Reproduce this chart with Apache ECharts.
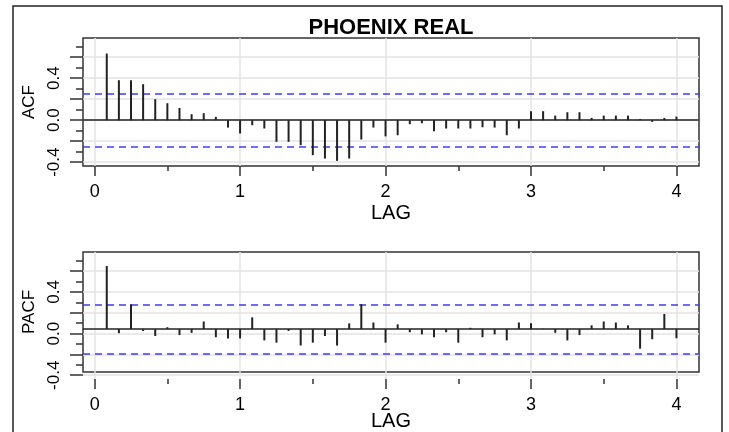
<!DOCTYPE html>
<html>
<head>
<meta charset="utf-8">
<script src="https://cdn.jsdelivr.net/npm/echarts@6/dist/echarts.min.js"></script>
<style>
  html, body { margin: 0; padding: 0; background: #fff; }
  #chart { width: 729px; height: 432px; }
</style>
</head>
<body>
<div id="chart"></div>
<script>
// lag in months, plotted as lag / frequency (years)
const lagMonths = [1, 2, 3, 4, 5, 6, 7, 8, 9, 10, 11, 12,
  13, 14, 15, 16, 17, 18, 19, 20, 21, 22, 23, 24,
  25, 26, 27, 28, 29, 30, 31, 32, 33, 34, 35, 36,
  37, 38, 39, 40, 41, 42, 43, 44, 45, 46, 47, 48];
const frequency = 12;

const acfValues = [0.635, 0.381, 0.381, 0.343, 0.200, 0.162, 0.117, 0.057, 0.067, 0.032, -0.070, -0.126,
  -0.048, -0.079, -0.206, -0.206, -0.238, -0.333, -0.365, -0.387, -0.365, -0.184, -0.070, -0.154,
  -0.143, -0.038, -0.029, -0.105, -0.079, -0.079, -0.079, -0.067, -0.070, -0.143, -0.079, 0.086,
  0.086, 0.044, 0.076, 0.076, 0.022, 0.044, 0.044, 0.044, 0.010, -0.016, 0.022, 0.035];

const pacfValues = [0.641, -0.042, 0.253, -0.019, -0.070, 0.019, -0.061, -0.038, 0.077, -0.083, -0.096, -0.095,
  0.119, -0.115, -0.138, -0.019, -0.167, -0.138, -0.070, -0.167, 0.058, 0.253, 0.067, -0.138,
  0.048, -0.032, -0.054, -0.083, -0.032, -0.138, 0.013, -0.083, -0.054, -0.115, 0.067, 0.058,
  0.003, -0.038, -0.115, -0.061, 0.038, 0.077, 0.067, 0.038, -0.199, -0.103, 0.154, -0.093];

const ciBound = 0.253;
const xTickLabels = ['0', '1', '2', '3', '4'];
const yTickLabels = ['-0.4', '0.0', '0.4'];

const font = 'Liberation Sans, Arial, sans-serif';
const xMin = -0.08, xMax = 4.155;
const yMin = -0.436, yMax = 0.783;
const plotLeft = 83, plotWidth = 616;
const panels = [
  { top: 38, height: 128, name: 'ACF', values: acfValues, lagGap: 37 },
  { top: 252, height: 127, name: 'PACF', values: pacfValues, lagGap: 39 }
];

function xPx(v) { return plotLeft + (v - xMin) / (xMax - xMin) * plotWidth; }
function yPx(p, v) { return p.top + (yMax - v) / (yMax - yMin) * p.height; }

const tickStyle = { color: '#333', width: 1.5 };
const gridLine = { color: '#e3e3e3', width: 1.5 };
const hidden = { show: false };

const grid = [], xAxis = [], yAxis = [], series = [];

panels.forEach(function (p) {
  const g = grid.length;
  // main plot box
  grid.push({ left: plotLeft, width: plotWidth, top: p.top, height: p.height,
    show: true, borderColor: '#333', borderWidth: 1.5, backgroundColor: 'transparent' });
  // x ticks 0..4
  grid.push({ left: xPx(0), width: xPx(4) - xPx(0), top: p.top, height: p.height });
  // short y ticks -0.4..0.7
  grid.push({ left: plotLeft, width: plotWidth, top: yPx(p, 0.7), height: yPx(p, -0.4) - yPx(p, 0.7) });
  // long y ticks + labels -0.4..0.6
  grid.push({ left: plotLeft, width: plotWidth, top: yPx(p, 0.6), height: yPx(p, -0.4) - yPx(p, 0.6) });

  xAxis.push({
    gridIndex: g, type: 'value', min: xMin, max: xMax,
    name: 'LAG', nameLocation: 'middle', nameGap: p.lagGap,
    nameTextStyle: { fontSize: 20, color: '#000', fontFamily: font },
    axisLine: hidden, axisTick: hidden, axisLabel: hidden, splitLine: hidden
  });
  yAxis.push({
    gridIndex: g, type: 'value', min: yMin, max: yMax,
    name: p.name, nameLocation: 'middle', nameGap: 45, nameRotate: 90,
    nameTextStyle: { fontSize: 17, color: '#000', fontFamily: font },
    axisLine: hidden, axisTick: hidden, axisLabel: hidden, splitLine: hidden
  });

  xAxis.push({
    gridIndex: g + 1, type: 'value', min: 0, max: 4, interval: 1, position: 'bottom',
    axisLine: hidden,
    axisTick: { show: true, length: 10, lineStyle: tickStyle },
    minorTick: { show: true, splitNumber: 2, length: 5, lineStyle: tickStyle },
    axisLabel: { fontSize: 18, margin: 17, color: '#000', fontFamily: font,
      formatter: function (v) { return xTickLabels[Math.round(v)]; } },
    splitLine: { show: true, lineStyle: gridLine }
  });
  yAxis.push({ gridIndex: g + 1, type: 'value', min: 0, max: 1, show: false });

  xAxis.push({ gridIndex: g + 2, type: 'value', min: 0, max: 1, show: false });
  yAxis.push({
    gridIndex: g + 2, type: 'value', min: -0.4, max: 0.7, interval: 0.1,
    axisLine: hidden, axisTick: { show: true, length: 7, lineStyle: tickStyle },
    axisLabel: hidden, splitLine: hidden
  });

  xAxis.push({ gridIndex: g + 3, type: 'value', min: 0, max: 1, show: false });
  yAxis.push({
    gridIndex: g + 3, type: 'value', min: -0.4, max: 0.6, interval: 0.2,
    axisLine: hidden, axisTick: { show: true, length: 13, lineStyle: tickStyle },
    axisLabel: { rotate: 90, fontSize: 17, margin: 20, color: '#000', fontFamily: font,
      formatter: function (v) {
        const s = v.toFixed(1);
        return yTickLabels.indexOf(s) >= 0 ? s : '';
      } },
    splitLine: { show: true, lineStyle: gridLine }
  });

  series.push({
    type: 'bar', xAxisIndex: g, yAxisIndex: g,
    data: lagMonths.map(function (m, j) { return [m / frequency, p.values[j]]; }),
    barWidth: 2,
    itemStyle: { color: '#222' },
    z: 5,
    markLine: {
      symbol: 'none', silent: true, label: hidden,
      data: [
        { yAxis: 0, lineStyle: { color: '#222', width: 1.5, type: 'solid' } },
        { yAxis: ciBound, lineStyle: { color: '#3b3bff', width: 1.5, type: [7, 5] } },
        { yAxis: -ciBound, lineStyle: { color: '#3b3bff', width: 1.5, type: [7, 5] } }
      ]
    }
  });
});

const chart = echarts.init(document.getElementById('chart'));
chart.setOption({
  animation: false,
  textStyle: { fontFamily: font },
  title: {
    text: 'PHOENIX REAL', left: 386, top: 12, textAlign: 'center',
    textStyle: { fontSize: 22, fontWeight: 'bold', color: '#000', fontFamily: font }
  },
  graphic: [{
    type: 'rect', shape: { x: 13, y: 6, width: 709, height: 440 },
    style: { fill: 'none', stroke: '#222', lineWidth: 1.5 }, silent: true
  }],
  grid: grid,
  xAxis: xAxis,
  yAxis: yAxis,
  series: series
});
</script>
</body>
</html>
